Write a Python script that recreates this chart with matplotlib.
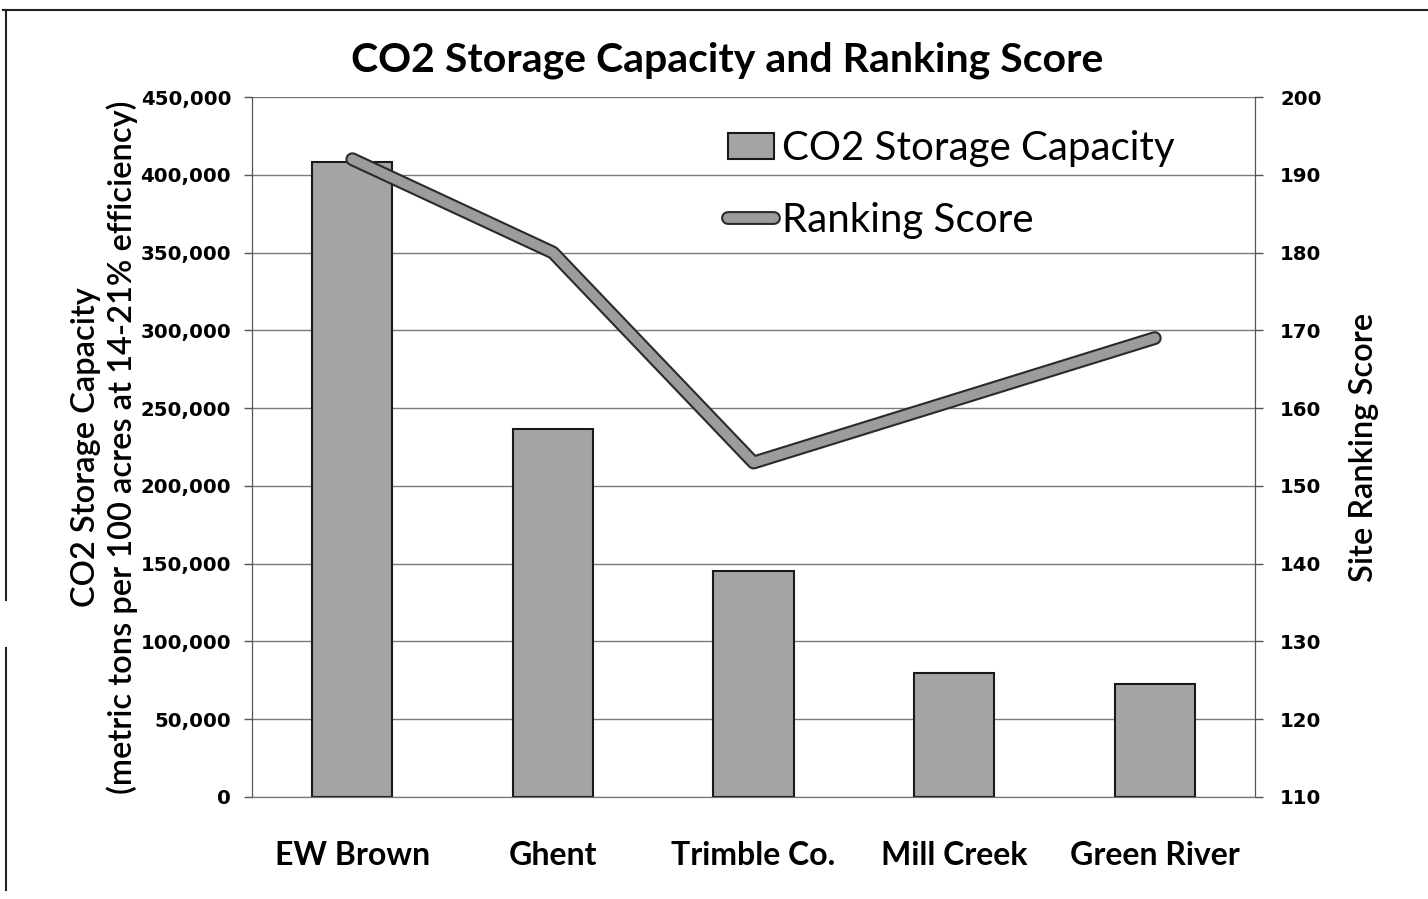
import numpy as np
import matplotlib.pyplot as plt
import matplotlib.patheffects as pe
from matplotlib.lines import Line2D
from matplotlib.patches import Patch
from matplotlib.ticker import FuncFormatter

sites = ['EW Brown', 'Ghent', 'Trimble Co.', 'Mill Creek', 'Green River']
capacity = [408500, 236500, 145500, 79500, 72500]
ranking = [192, 180, 153, 161, 169]

fig = plt.figure(figsize=(14.28, 8.99), dpi=100)
ax = fig.add_axes([0.1765, 0.1135, 0.7024, 0.7786])
ax2 = ax.twinx()

x = np.arange(len(sites))
ax.bar(x, capacity, width=0.4, color='#a4a4a4', edgecolor='#1a1a1a', linewidth=1.5, zorder=2)

line_fx = [pe.Stroke(linewidth=10, foreground='#2a2a2a'), pe.Normal()]
ax2.plot(x, ranking, color='#9c9c9c', linewidth=7, solid_capstyle='round', solid_joinstyle='round',
         path_effects=line_fx)

ax.set_xlim(-0.5, 4.5)
ax.set_ylim(0, 450000)
ax.set_yticks(np.arange(0, 450001, 50000))
ax.yaxis.set_major_formatter(FuncFormatter(lambda v, p: f'{int(v):,}'))
ax2.set_ylim(110, 200)
ax2.set_yticks(np.arange(110, 201, 10))

ax.grid(axis='y', color='#7a7a7a', linewidth=1.0, zorder=0)
ax.set_axisbelow(True)

ax.set_xticks(x)
ax.set_xticklabels(sites, fontfamily='Lato', fontweight='bold', fontsize=23)
ax.tick_params(axis='x', length=0, pad=32)
ax.tick_params(axis='y', direction='out', length=6, width=1, color='#555555', pad=9)
ax2.tick_params(axis='y', direction='out', length=6, width=1, color='#555555', pad=12)
for lab in ax.get_yticklabels() + ax2.get_yticklabels():
    lab.set_fontweight('bold')
    lab.set_fontsize(14.2)
    lab.set_fontfamily('DejaVu Sans')

for a in (ax, ax2):
    a.spines['top'].set_visible(False)
    a.spines['bottom'].set_color('#777777')
    a.spines['left'].set_color('#555555')
    a.spines['right'].set_color('#555555')

ax.set_ylabel('CO2 Storage Capacity\n(metric tons per 100 acres at 14-21% efficiency)',
              fontfamily='Lato', fontsize=23.5, fontweight='semibold', labelpad=2, linespacing=1.2)
ax2.set_ylabel('Site Ranking Score', fontfamily='Lato', fontsize=23.5, fontweight='semibold', labelpad=20)

fig.text(0.509, 0.933, 'CO2 Storage Capacity and Ranking Score', ha='center', va='center',
         fontfamily='Lato', fontweight='bold', fontsize=29.5)

handles = [Patch(facecolor='#a4a4a4', edgecolor='#1a1a1a', linewidth=1.5),
           Line2D([], [], color='#9c9c9c', linewidth=7, solid_capstyle='round', path_effects=line_fx)]
ax2.legend(handles, ['CO2 Storage Capacity', 'Ranking Score'], loc='upper left',
           bbox_to_anchor=(0.438, 1.004), frameon=False, prop={'family': 'Lato', 'size': 29},
           handlelength=1.15, handletextpad=0.2, labelspacing=0.85, handleheight=0.6)

# scanned page frame
fig.add_artist(Line2D([0.002, 1.0], [0.989, 0.989], color='#222222', linewidth=1.5))
fig.add_artist(Line2D([0.004, 0.004], [0.01, 0.279], color='#222222', linewidth=1.5))
fig.add_artist(Line2D([0.004, 0.004], [0.333, 0.989], color='#222222', linewidth=1.5))

plt.savefig('out.png', dpi=100)
